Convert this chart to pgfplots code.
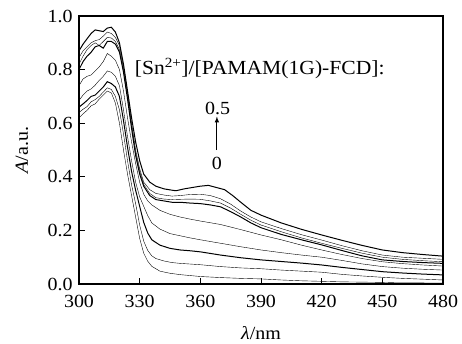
\documentclass[border=0pt]{standalone}
\usepackage{fontspec}
\setmainfont{Liberation Serif}[FakeStretch=1.08]
\usepackage{pgfplots}
\pgfplotsset{compat=1.18}
\begin{document}
\fontsize{18.5pt}{22pt}\selectfont
\begin{tikzpicture}
\begin{axis}[
  scale only axis, width=364pt, height=268pt,
  xmin=300, xmax=480, ymin=0, ymax=1.0,
  xtick={300,330,...,480}, ytick={0,0.2,...,1.0},
  yticklabel style={/pgf/number format/.cd,fixed,fixed zerofill,precision=1},
  xticklabel style={yshift=-5pt},
  /pgf/number format/assume math mode=true,
  tick align=inside, xtick pos=bottom, ytick pos=left,
  major tick length=6pt,
  axis line style={line width=1.1pt},
  every tick/.style={line width=1pt, black},
  tick label style={font=\fontsize{18.5pt}{22pt}\selectfont},
  label style={font=\fontsize{18.5pt}{22pt}\selectfont},
  xlabel={\textit{λ}/nm}, ylabel={\textit{A}/a.u.},
  xlabel style={yshift=-6pt}, ylabel style={yshift=7pt},
  cycle list={{black, solid, line width=1pt}},
  no marks,
  clip=true,
]
% c1
\addplot coordinates {(300,0.62)(302,0.635)(304,0.648)(306,0.665)(308,0.672)(310,0.69)(312,0.705)(314,0.72)(316,0.713)(318,0.675)(320,0.60)(322,0.50)(324,0.41)(326,0.33)(328,0.25)(330,0.17)(332,0.115)(334,0.085)(336,0.066)(340,0.048)(345,0.04)(350,0.035)(360,0.028)(370,0.024)(380,0.021)(390,0.019)(400,0.015)(410,0.012)(420,0.010)(430,0.008)(440,0.007)(450,0.006)(460,0.004)(470,0.004)(480,0.003)};
% c2
\addplot coordinates {(300,0.64)(302,0.652)(304,0.662)(306,0.68)(308,0.688)(310,0.70)(312,0.716)(314,0.732)(316,0.726)(318,0.70)(320,0.65)(322,0.56)(324,0.46)(326,0.37)(328,0.30)(330,0.22)(332,0.16)(334,0.125)(336,0.105)(338,0.095)(342,0.086)(346,0.08)(350,0.077)(360,0.072)(370,0.065)(380,0.06)(390,0.057)(400,0.052)(410,0.048)(420,0.044)(430,0.036)(440,0.03)(450,0.025)(460,0.021)(470,0.018)(480,0.015)};
% c3
\addplot coordinates {(300,0.66)(302,0.672)(304,0.685)(306,0.70)(308,0.705)(310,0.72)(312,0.735)(314,0.755)(316,0.748)(318,0.735)(320,0.70)(322,0.61)(324,0.51)(326,0.42)(328,0.35)(330,0.29)(332,0.23)(334,0.19)(336,0.165)(340,0.145)(345,0.133)(350,0.127)(355,0.124)(360,0.12)(370,0.108)(380,0.098)(390,0.09)(400,0.084)(410,0.078)(420,0.071)(430,0.062)(440,0.054)(450,0.046)(460,0.041)(470,0.037)(480,0.034)};
% c4
\addplot coordinates {(300,0.685)(302,0.705)(304,0.72)(306,0.728)(308,0.742)(310,0.76)(312,0.775)(314,0.795)(316,0.79)(318,0.775)(320,0.74)(322,0.65)(324,0.55)(326,0.46)(328,0.38)(330,0.325)(332,0.29)(334,0.255)(336,0.228)(340,0.205)(345,0.188)(350,0.18)(355,0.172)(360,0.165)(370,0.152)(380,0.139)(390,0.127)(400,0.117)(410,0.108)(420,0.10)(430,0.088)(440,0.075)(450,0.065)(460,0.059)(470,0.055)(480,0.052)};
% c5
\addplot coordinates {(300,0.74)(302,0.765)(304,0.775)(306,0.78)(308,0.795)(310,0.81)(312,0.83)(314,0.86)(316,0.85)(318,0.835)(320,0.80)(322,0.72)(324,0.62)(326,0.53)(328,0.45)(330,0.38)(332,0.335)(334,0.31)(336,0.295)(340,0.275)(345,0.26)(350,0.25)(355,0.242)(360,0.235)(370,0.222)(380,0.203)(390,0.183)(400,0.165)(410,0.145)(420,0.127)(430,0.11)(440,0.095)(450,0.083)(460,0.076)(470,0.071)(480,0.067)};
% c6
\addplot coordinates {(300,0.80)(302,0.83)(304,0.85)(306,0.865)(308,0.885)(310,0.89)(312,0.88)(314,0.905)(316,0.905)(318,0.895)(320,0.865)(322,0.79)(324,0.69)(326,0.58)(328,0.48)(330,0.41)(332,0.365)(335,0.33)(338,0.315)(342,0.31)(346,0.305)(350,0.305)(355,0.302)(360,0.30)(365,0.295)(370,0.288)(375,0.27)(380,0.25)(385,0.228)(390,0.21)(400,0.185)(410,0.165)(420,0.146)(430,0.125)(440,0.105)(450,0.09)(460,0.084)(470,0.08)(480,0.077)};
% c7
\addplot coordinates {(300,0.82)(302,0.85)(304,0.875)(306,0.89)(308,0.90)(310,0.89)(312,0.905)(314,0.92)(316,0.918)(318,0.905)(320,0.875)(322,0.80)(324,0.70)(326,0.59)(328,0.49)(330,0.42)(332,0.372)(335,0.338)(338,0.322)(342,0.317)(346,0.315)(350,0.316)(355,0.317)(360,0.316)(365,0.31)(370,0.302)(375,0.283)(380,0.26)(385,0.238)(390,0.22)(400,0.195)(410,0.172)(420,0.152)(430,0.133)(440,0.115)(450,0.10)(460,0.092)(470,0.087)(480,0.083)};
% c8
\addplot coordinates {(300,0.845)(302,0.87)(304,0.885)(306,0.90)(308,0.908)(310,0.912)(312,0.925)(314,0.94)(316,0.935)(318,0.92)(320,0.89)(322,0.81)(324,0.71)(326,0.60)(328,0.50)(330,0.43)(332,0.38)(335,0.352)(338,0.338)(342,0.332)(346,0.328)(350,0.33)(355,0.334)(360,0.335)(365,0.33)(370,0.318)(375,0.298)(380,0.272)(385,0.25)(390,0.232)(400,0.207)(410,0.184)(420,0.164)(430,0.143)(440,0.124)(450,0.108)(460,0.1)(470,0.096)(480,0.092)};
% c9
\addplot coordinates {(300,0.87)(302,0.895)(304,0.915)(306,0.935)(308,0.948)(310,0.945)(312,0.942)(314,0.955)(316,0.958)(318,0.94)(320,0.90)(322,0.82)(324,0.72)(326,0.62)(328,0.53)(330,0.46)(332,0.41)(335,0.38)(338,0.365)(342,0.355)(346,0.35)(348,0.348)(352,0.355)(356,0.36)(360,0.365)(364,0.368)(368,0.36)(372,0.352)(376,0.33)(380,0.305)(385,0.275)(390,0.257)(400,0.228)(410,0.204)(420,0.183)(430,0.163)(440,0.144)(450,0.127)(460,0.117)(470,0.11)(480,0.104)};
\node[anchor=west, inner sep=0pt, font=\fontsize{20pt}{24pt}\selectfont] at (axis cs:327.5,0.805) {[Sn\textsuperscript{2+}]/[PAMAM(1G)-FCD]:};
\node[inner sep=0pt] at (axis cs:368.5,0.655) {0.5};
\node[inner sep=0pt] at (axis cs:368.2,0.45) {0};
\draw[-latex, line width=1pt] (axis cs:368.2,0.50) -- (axis cs:368.2,0.625);
\end{axis}
\pgfresetboundingbox
\path ([shift={(-79pt,-59pt)}]current axis.south west) rectangle ([shift={(19pt,16pt)}]current axis.north east);
\end{tikzpicture}
\end{document}
